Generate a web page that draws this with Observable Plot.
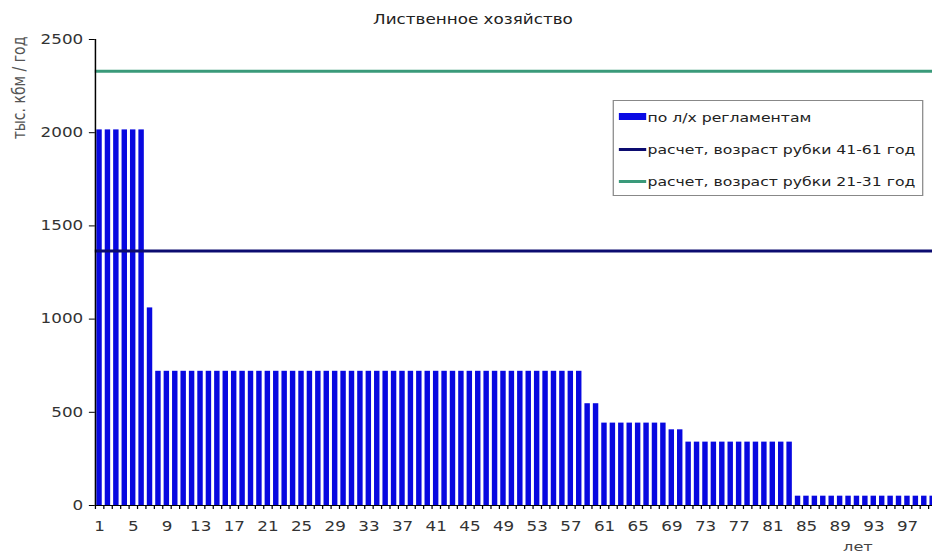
<!DOCTYPE html>
<html>
<head>
<meta charset="utf-8">
<script src="https://cdn.jsdelivr.net/npm/d3@7"></script>
<script src="https://cdn.jsdelivr.net/npm/@observablehq/plot@0.6"></script>
<style>
html, body { margin: 0; padding: 0; background: #fff; overflow: hidden; }
#wrap { position: relative; width: 750px; height: 557px; transform: scaleX(1.2427); transform-origin: 0 0; font-family: "DejaVu Sans", Verdana, sans-serif; }
#chart { position: absolute; left: 0; top: 0; }
#title { position: absolute; left: 380.6px; top: 18.5px; transform: translate(-50%, -50%); font-size: 13.5px; color: #222; white-space: nowrap; }
#ylabel { position: absolute; left: 14.5px; top: 88px; transform: translate(-50%, -50%) rotate(-90deg); font-size: 14px; color: #555; white-space: nowrap; }
#xlabel { position: absolute; left: 690.4px; top: 546px; transform: translate(-50%, -50%); font-size: 13px; line-height: 15px; color: #444; white-space: nowrap; }
#legend { position: absolute; left: 492.5px; top: 100px; width: 250px; height: 96px; box-sizing: border-box; border: 1px solid #888; background: #fff; }
.item { position: absolute; left: 0; height: 0; }
.item .sw { position: absolute; left: 4px; width: 22.5px; }
.item .lb { position: absolute; left: 27.5px; top: 0; transform: translateY(-50%); font-size: 12.6px; color: #222; white-space: nowrap; }
</style>
</head>
<body>
<div id="wrap">
  <div id="chart"></div>
  <div id="title">Лиственное хозяйство</div>
  <div id="ylabel">тыс. кбм / год</div>
  <div id="xlabel">лет</div>
  <div id="legend"></div>
</div>
<script>
// Categories: age (years)
const years = [
  1,2,3,4,5,6,7,8,9,10,11,12,13,14,15,16,17,18,19,20,
  21,22,23,24,25,26,27,28,29,30,31,32,33,34,35,36,37,38,39,40,
  41,42,43,44,45,46,47,48,49,50,51,52,53,54,55,56,57,58,59,60,
  61,62,63,64,65,66,67,68,69,70,71,72,73,74,75,76,77,78,79,80,
  81,82,83,84,85,86,87,88,89,90,91,92,93,94,95,96,97,98,99,100
];
// Series: "по л/х регламентам" (тыс. кбм / год)
const harvest = [
  2015,2015,2015,2015,2015,2015,1060,720,720,720,720,720,720,720,720,720,720,720,720,720,
  720,720,720,720,720,720,720,720,720,720,720,720,720,720,720,720,720,720,720,720,
  720,720,720,720,720,720,720,720,720,720,720,720,720,720,720,720,720,720,546,546,
  442,442,442,442,442,442,442,442,406,406,340,340,340,340,340,340,340,340,340,340,
  340,340,340,50,50,50,50,50,50,50,50,50,50,50,50,50,50,50,50,50
];
// Series: calculated levels
const calc41_61 = [1365];
const calc21_31 = [2330];
// Tick labels
const yTicks = [0, 500, 1000, 1500, 2000, 2500];
const xTickLabels = [1,5,9,13,17,21,25,29,33,37,41,45,49,53,57,61,65,69,73,77,81,85,89,93,97];
// Legend labels
const legendItems = [
  {label: "по л/х регламентам", type: "bar", color: "#0a0ae4"},
  {label: "расчет, возраст рубки 41-61 год", type: "line", color: "#0c0c70"},
  {label: "расчет, возраст рубки 21-31 год", type: "line", color: "#3a9a7a"}
];

const data = years.map((y, i) => ({year: y, value: harvest[i]}));
const bounds = years.map(y => y - 0.5);

const chart = Plot.plot({
  width: 750,
  height: 557,
  marginLeft: 76.3,
  marginRight: 0,
  marginTop: 39,
  marginBottom: 52,
  style: {fontFamily: "DejaVu Sans, Verdana, sans-serif", fontSize: "13.5px", color: "#333", background: "transparent", overflow: "hidden"},
  x: {domain: [0.5, 99.98], axis: null},
  y: {domain: [0, 2500], axis: null},
  marks: [
    Plot.rect(data, {x1: d => d.year - 0.5, x2: d => d.year + 0.5, y1: 0, y2: "value", fill: "#0808e0", insetLeft: 1.2, insetRight: 1.2, clip: true}),
    Plot.ruleY(calc41_61, {stroke: "#0c0c70", strokeWidth: 3}),
    Plot.ruleY(calc21_31, {stroke: "#3a9a7a", strokeWidth: 3}),
    Plot.ruleY([0], {stroke: "#000", strokeWidth: 1.2}),
    Plot.ruleX([0.5], {y1: 0, y2: 2500, stroke: "#000", strokeWidth: 1.2}),
    Plot.axisY(yTicks, {anchor: "left", tickSize: 4.8, tickPadding: 5, tickFormat: d3.format("d"), fontSize: 13.5, stroke: "#000", label: null}),
    Plot.axisX(bounds, {anchor: "bottom", tickSize: 4, tickFormat: () => "", stroke: "#000", label: null}),
    Plot.axisX(xTickLabels, {anchor: "bottom", tickSize: 0, tickPadding: 16, tickFormat: d3.format("d"), fontSize: 13.5, label: null})
  ]
});
document.getElementById("chart").appendChild(chart);

const legend = document.getElementById("legend");
const rowsY = [16, 48, 80];
legendItems.forEach((it, i) => {
  const row = document.createElement("div");
  row.className = "item";
  row.style.top = rowsY[i] + "px";
  const sw = document.createElement("div");
  sw.className = "sw";
  sw.style.background = it.color;
  if (it.type === "bar") { sw.style.height = "7px"; sw.style.top = "-4px"; }
  else { sw.style.height = "3px"; sw.style.top = "-1.5px"; }
  const lb = document.createElement("div");
  lb.className = "lb";
  lb.textContent = it.label;
  row.appendChild(sw);
  row.appendChild(lb);
  legend.appendChild(row);
});
</script>
</body>
</html>
